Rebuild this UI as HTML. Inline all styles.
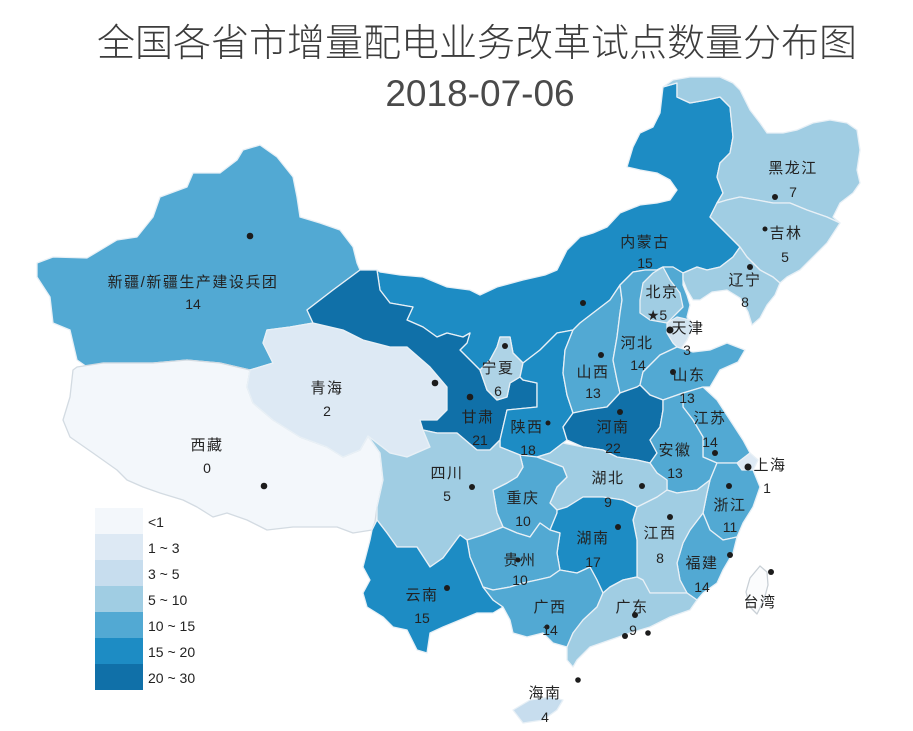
<!DOCTYPE html>
<html>
<head>
<meta charset="utf-8">
<style>
html,body{margin:0;padding:0;background:#fff;}
svg{display:block;}
.t{font-family:"Liberation Sans","Noto Sans CJK SC",sans-serif;}
.lb{font-family:"Liberation Sans","Noto Sans CJK SC",sans-serif;font-size:15px;fill:#222;text-anchor:middle;letter-spacing:1.5px;}
.nm{font-family:"Liberation Sans",sans-serif;font-size:14px;fill:#222;text-anchor:middle;}
.lg{font-family:"Liberation Sans",sans-serif;font-size:14px;fill:#222;}
polygon{stroke:#e8f0f6;stroke-width:1.3;stroke-linejoin:round;}
</style>
</head>
<body>
<svg width="913" height="731" viewBox="0 0 913 731" xmlns="http://www.w3.org/2000/svg">
<rect width="913" height="731" fill="#fff"/>
<text x="477" y="56" class="t" font-size="38" fill="#3c3c3c" text-anchor="middle" font-weight="300">全国各省市增量配电业务改革试点数量分布图</text>
<text x="480" y="106" class="t" font-size="37" fill="#4a4a4a" text-anchor="middle">2018-07-06</text>

<!-- Xinjiang -->
<polygon fill="#52a9d3" points="37,263 53,257 87,258 117,240 137,237 153,217 160,197 187,187 193,173 220,173 237,160 243,150 260,145 277,157 293,177 297,197 300,217 320,223 340,230 353,247 357,263 360,270 333,290 307,310 313,323 290,327 267,330 263,343 273,363 250,370 220,363 187,360 153,363 103,363 87,367 77,360 70,330 53,323 50,297 37,277"/>
<!-- Tibet -->
<polygon fill="#f3f7fb" style="stroke:#d3dbe2" points="77,367 103,363 153,363 187,360 220,363 250,370 247,387 253,403 273,420 300,437 327,447 343,457 360,450 368,436 380,453 383,480 377,507 375,522 372,530 353,533 337,527 313,527 293,527 267,530 247,520 227,513 213,517 197,507 183,500 160,493 143,487 127,480 117,470 93,453 70,437 63,420 70,397 73,370"/>
<!-- Qinghai -->
<polygon fill="#dde9f4" points="267,330 290,327 313,323 343,330 363,340 390,347 407,347 430,367 447,387 447,410 437,420 420,420 423,430 430,447 407,457 390,453 368,436 360,450 343,457 327,447 300,437 273,420 253,403 247,387 250,370 273,363 263,343"/>
<!-- Inner Mongolia -->
<polygon fill="#1d8cc4" points="377,270 380,290 390,303 413,307 407,320 423,327 437,337 447,333 463,337 470,333 467,343 460,350 477,367 480,370 490,360 497,347 500,337 510,337 513,353 523,363 540,350 557,333 573,330 580,323 593,313 610,300 620,285 633,272 645,270 657,270 663,267 673,267 683,273 697,267 707,270 720,267 733,257 740,247 730,237 720,227 710,217 717,203 723,193 717,177 720,163 730,153 733,137 730,107 720,97 707,100 690,103 677,97 677,83 663,87 660,113 653,127 640,133 633,147 627,167 640,170 657,173 670,180 677,190 670,200 657,203 640,205 620,213 607,227 593,233 580,237 567,250 557,270 545,275 523,280 497,287 480,295 470,290 447,287 423,277 400,275 380,272"/>
<!-- Gansu -->
<polygon fill="#1070a8" points="307,310 333,290 360,270 377,270 380,290 390,303 413,307 407,320 423,327 437,337 447,333 463,337 470,333 467,343 460,350 477,367 480,370 487,390 497,400 507,397 510,383 520,377 523,380 537,383 537,407 507,410 500,440 490,450 477,450 457,433 437,433 423,430 420,420 437,420 447,410 447,387 430,367 407,347 390,347 363,340 343,330 313,323"/>
<!-- Ningxia -->
<polygon fill="#aed3e6" points="500,337 510,337 513,353 523,363 520,377 510,383 507,397 497,400 487,390 480,370 490,360 497,347"/>
<!-- Shaanxi -->
<polygon fill="#1d8cc4" points="523,363 540,350 557,333 573,330 565,350 563,373 567,395 573,413 563,427 567,440 563,443 550,453 537,457 520,455 500,447 500,440 507,410 537,407 537,383 523,380 520,377"/>
<!-- Shanxi -->
<polygon fill="#52a9d3" points="573,330 580,323 593,313 610,300 620,285 622,300 620,313 617,337 613,360 617,380 620,393 607,407 587,410 573,413 567,395 563,373 565,350"/>
<!-- Hebei -->
<polygon fill="#52a9d3" points="620,285 633,272 645,270 657,270 663,267 673,267 683,273 683,285 687,295 690,305 687,317 690,322 687,340 680,350 677,347 660,355 643,372 640,385 637,387 620,393 617,380 613,360 617,337 620,313 622,300"/>
<!-- Beijing -->
<polygon fill="#a0cde3" points="643,283 653,273 663,267 670,280 680,293 683,307 673,317 667,323 650,320 640,313 640,300"/>
<!-- Tianjin -->
<polygon fill="#d2e4f0" points="667,323 677,317 690,320 693,327 687,340 680,350 673,343 667,333"/>
<!-- Heilongjiang -->
<polygon fill="#a0cde3" points="663,87 673,80 690,77 720,77 733,83 740,90 750,110 760,123 767,133 783,133 797,130 813,123 830,120 847,123 857,130 860,150 857,170 860,183 853,193 840,203 833,217 840,223 827,217 807,210 790,203 773,203 757,200 740,197 727,200 717,203 723,193 717,177 720,163 730,153 733,137 730,107 720,97 707,100 690,103 677,97 677,83"/>
<!-- Jilin -->
<polygon fill="#a0cde3" points="717,203 727,200 740,197 757,200 773,203 790,203 807,210 827,217 840,223 827,243 813,257 800,270 787,277 780,283 773,277 760,270 747,257 740,247 730,237 720,227 710,217"/>
<!-- Liaoning -->
<polygon fill="#a0cde3" points="740,247 747,257 760,270 773,277 780,283 775,295 767,305 760,318 752,325 748,312 740,298 727,290 712,292 700,300 693,300 687,290 683,280 683,273 697,267 707,270 720,267 733,257"/>
<!-- Shandong -->
<polygon fill="#52a9d3" points="643,372 660,355 677,347 693,352 710,350 727,343 745,350 738,362 720,370 710,387 703,387 683,393 663,400 650,395 640,385"/>
<!-- Henan -->
<polygon fill="#1070a8" points="573,413 587,410 607,407 620,393 637,387 640,385 650,395 663,400 663,410 660,427 650,440 657,453 650,463 637,460 617,457 603,450 583,447 567,440 563,427"/>
<!-- Jiangsu -->
<polygon fill="#52a9d3" points="683,393 703,387 717,400 730,420 743,440 750,453 737,463 717,463 703,457 703,437 693,420 683,407"/>
<!-- Anhui -->
<polygon fill="#52a9d3" points="663,400 683,393 683,407 693,420 703,437 703,457 717,463 710,480 697,490 677,493 667,490 667,480 657,473 650,463 657,453 650,440 660,427 663,410"/>
<!-- Shanghai -->
<polygon fill="#dde9f4" points="737,463 750,453 758,460 753,470 742,470"/>
<!-- Zhejiang -->
<polygon fill="#52a9d3" points="717,463 737,463 742,470 753,470 760,487 753,507 743,523 737,537 723,540 710,530 703,513 707,493 710,480"/>
<!-- Fujian -->
<polygon fill="#52a9d3" points="703,513 710,530 723,540 737,537 733,553 723,570 717,583 703,593 697,600 687,593 680,580 677,563 683,543 690,530"/>
<!-- Jiangxi -->
<polygon fill="#a0cde3" points="637,507 657,497 667,490 677,493 697,490 710,480 707,493 703,513 690,530 683,543 677,563 680,580 687,593 670,593 650,593 643,580 637,577 637,567 637,540 633,520"/>
<!-- Hubei -->
<polygon fill="#a0cde3" points="550,453 563,443 583,447 603,450 617,457 637,460 650,463 657,473 667,480 667,490 657,497 637,507 623,500 603,497 583,497 567,507 557,510 550,503 557,487 567,477 563,467 537,457"/>
<!-- Chongqing -->
<polygon fill="#52a9d3" points="520,455 537,457 563,467 567,477 557,487 550,503 557,510 557,513 550,530 540,523 530,537 517,533 503,527 497,513 493,490 507,483 517,477 523,467"/>
<!-- Hunan -->
<polygon fill="#1d8cc4" points="557,510 567,507 583,497 603,497 623,500 637,507 633,520 637,540 637,567 637,577 623,580 610,587 603,593 597,580 590,567 577,573 560,570 557,553 560,533 550,530 557,513"/>
<!-- Sichuan -->
<polygon fill="#a0cde3" points="368,436 390,453 407,457 430,447 423,430 437,433 457,433 477,450 490,450 500,440 500,447 520,455 523,467 517,477 507,483 493,490 497,513 503,527 483,535 467,540 460,535 443,558 430,567 417,547 397,547 387,533 377,520 377,507 383,480 380,453"/>
<!-- Guizhou -->
<polygon fill="#52a9d3" points="467,540 483,535 503,527 517,533 530,537 540,523 550,530 560,533 557,553 560,570 550,577 537,580 523,583 510,587 493,590 483,587 477,573 470,557"/>
<!-- Yunnan -->
<polygon fill="#1d8cc4" points="377,520 387,533 397,547 417,547 430,567 443,558 460,535 467,540 470,557 477,573 483,587 493,600 503,607 493,613 477,613 460,620 443,627 430,633 427,653 417,650 407,630 393,627 383,617 367,607 363,593 370,580 363,567 370,540 372,530"/>
<!-- Guangxi -->
<polygon fill="#52a9d3" points="483,587 493,590 510,587 523,583 537,580 550,577 560,570 577,573 590,567 597,580 603,593 597,607 583,620 573,633 567,647 553,643 543,633 527,637 513,633 510,620 503,607 493,600"/>
<!-- Guangdong -->
<polygon fill="#a0cde3" points="603,593 610,587 623,580 637,577 643,580 650,593 670,593 687,593 697,600 690,610 670,617 650,627 630,633 610,640 590,647 577,660 573,667 567,660 567,647 573,633 583,620 597,607"/>
<!-- Hainan -->
<polygon fill="#c7ddee" points="513,710 530,700 550,697 563,700 557,710 543,720 523,723"/>
<!-- Taiwan -->
<polygon fill="#fbfcfd" style="stroke:#c9d0d6" points="760,566 767,572 768,585 764,600 757,614 750,607 746,592 750,578"/>

<!-- dots -->
<g fill="#1c1c1c">
<circle cx="250" cy="236" r="3.3"/>
<circle cx="264" cy="486" r="3.3"/>
<circle cx="435" cy="383" r="3.3"/>
<circle cx="470" cy="397" r="3.3"/>
<circle cx="505" cy="346" r="3"/>
<circle cx="548" cy="423" r="2.5"/>
<circle cx="472" cy="487" r="3"/>
<circle cx="518" cy="560" r="2.5"/>
<circle cx="447" cy="588" r="3"/>
<circle cx="547" cy="627" r="2.5"/>
<circle cx="635" cy="615" r="3"/>
<circle cx="625" cy="636" r="3"/>
<circle cx="648" cy="633" r="2.8"/>
<circle cx="578" cy="680" r="2.8"/>
<circle cx="618" cy="527" r="3"/>
<circle cx="642" cy="486" r="3"/>
<circle cx="670" cy="517" r="3"/>
<circle cx="730" cy="555" r="3"/>
<circle cx="729" cy="486" r="3"/>
<circle cx="748" cy="467" r="3.5"/>
<circle cx="771" cy="572" r="3"/>
<circle cx="715" cy="453" r="3"/>
<circle cx="620" cy="412" r="3"/>
<circle cx="673" cy="372" r="3"/>
<circle cx="601" cy="355" r="3"/>
<circle cx="670" cy="330" r="3.5"/>
<circle cx="583" cy="303" r="3"/>
<circle cx="750" cy="267" r="3"/>
<circle cx="765" cy="229" r="2.5"/>
<circle cx="775" cy="197" r="3"/>
</g>

<!-- labels -->
<g>
<text class="lb" x="193" y="287">新疆/新疆生产建设兵团</text><text class="nm" x="193" y="309">14</text>
<text class="lb" x="327" y="393">青海</text><text class="nm" x="327" y="416">2</text>
<text class="lb" x="207" y="450">西藏</text><text class="nm" x="207" y="473">0</text>
<text class="lb" x="478" y="422">甘肃</text><text class="nm" x="480" y="445">21</text>
<text class="lb" x="498" y="373">宁夏</text><text class="nm" x="498" y="396">6</text>
<text class="lb" x="527" y="432">陕西</text><text class="nm" x="528" y="455">18</text>
<text class="lb" x="447" y="478">四川</text><text class="nm" x="447" y="501">5</text>
<text class="lb" x="523" y="503">重庆</text><text class="nm" x="523" y="526">10</text>
<text class="lb" x="520" y="565">贵州</text><text class="nm" x="520" y="585">10</text>
<text class="lb" x="422" y="600">云南</text><text class="nm" x="422" y="623">15</text>
<text class="lb" x="550" y="612">广西</text><text class="nm" x="550" y="635">14</text>
<text class="lb" x="632" y="612">广东</text><text class="nm" x="633" y="635">9</text>
<text class="lb" x="545" y="698">海南</text><text class="nm" x="545" y="722">4</text>
<text class="lb" x="593" y="543">湖南</text><text class="nm" x="593" y="567">17</text>
<text class="lb" x="608" y="483">湖北</text><text class="nm" x="608" y="507">9</text>
<text class="lb" x="660" y="538">江西</text><text class="nm" x="660" y="563">8</text>
<text class="lb" x="702" y="568">福建</text><text class="nm" x="702" y="592">14</text>
<text class="lb" x="730" y="510">浙江</text><text class="nm" x="730" y="532">11</text>
<text class="lb" x="770" y="470">上海</text><text class="nm" x="767" y="493">1</text>
<text class="lb" x="760" y="607">台湾</text>
<text class="lb" x="675" y="455">安徽</text><text class="nm" x="675" y="478">13</text>
<text class="lb" x="710" y="423">江苏</text><text class="nm" x="710" y="447">14</text>
<text class="lb" x="613" y="432">河南</text><text class="nm" x="613" y="453">22</text>
<text class="lb" x="689" y="380">山东</text><text class="nm" x="687" y="403">13</text>
<text class="lb" x="593" y="377">山西</text><text class="nm" x="593" y="398">13</text>
<text class="lb" x="637" y="348">河北</text><text class="nm" x="638" y="370">14</text>
<text class="lb" x="662" y="297">北京</text><text class="nm" x="657" y="320">★5</text>
<text class="lb" x="688" y="333">天津</text><text class="nm" x="687" y="355">3</text>
<text class="lb" x="645" y="247">内蒙古</text><text class="nm" x="645" y="268">15</text>
<text class="lb" x="745" y="285">辽宁</text><text class="nm" x="745" y="307">8</text>
<text class="lb" x="786" y="238">吉林</text><text class="nm" x="785" y="262">5</text>
<text class="lb" x="793" y="173">黑龙江</text><text class="nm" x="793" y="197">7</text>
</g>

<!-- legend -->
<g>
<rect x="95" y="508" width="48" height="26" fill="#f3f7fb"/>
<rect x="95" y="534" width="48" height="26" fill="#dde9f4"/>
<rect x="95" y="560" width="48" height="26" fill="#c7ddee"/>
<rect x="95" y="586" width="48" height="26" fill="#a0cde3"/>
<rect x="95" y="612" width="48" height="26" fill="#52a9d3"/>
<rect x="95" y="638" width="48" height="26" fill="#1d8cc4"/>
<rect x="95" y="664" width="48" height="26" fill="#1070a8"/>
<text class="lg" x="148" y="527">&lt;1</text>
<text class="lg" x="148" y="553">1 ~ 3</text>
<text class="lg" x="148" y="579">3 ~ 5</text>
<text class="lg" x="148" y="605">5 ~ 10</text>
<text class="lg" x="148" y="631">10 ~ 15</text>
<text class="lg" x="148" y="657">15 ~ 20</text>
<text class="lg" x="148" y="683">20 ~ 30</text>
</g>
</svg>
</body>
</html>
